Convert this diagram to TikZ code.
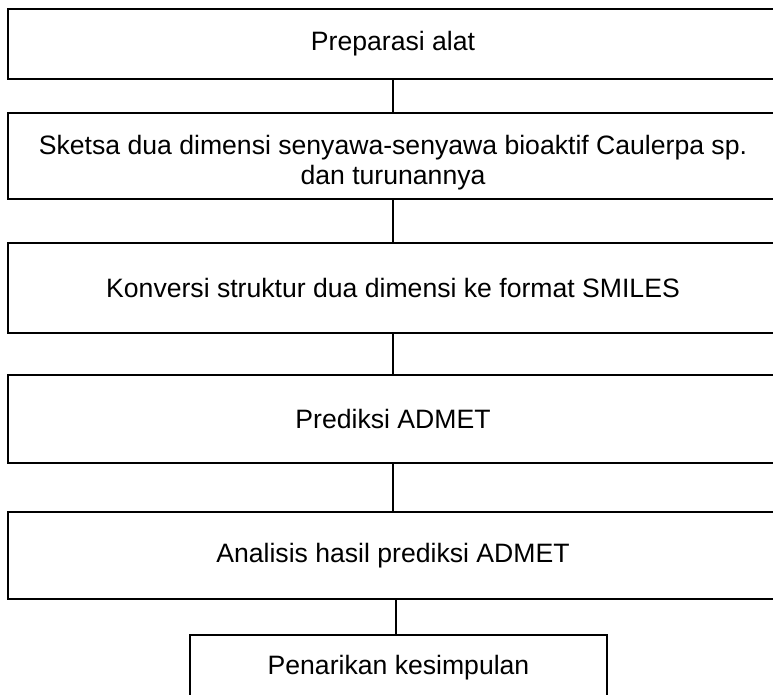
\documentclass[tikz,border=0pt]{standalone}
\usepackage{fontspec}
\setmainfont{Liberation Sans}
\begin{document}
\begin{tikzpicture}[x=1pt,y=-1pt,
  stepbox/.style={draw, line width=2pt, align=center, inner sep=0pt,
    font=\fontsize{26.6}{29.5}\selectfont, text=black},
  steptext/.style={align=center, inner sep=0pt,
    font=\fontsize{26.6}{29.5}\selectfont, text=black},
  conn/.style={line width=2pt}]
\useasboundingbox (0,0) rectangle (773,695);
\clip (0,0) rectangle (773,695);
\node[stepbox, minimum width=770pt, minimum height=69.4pt] (b1) at (393,44) {Preparasi alat};
\node[stepbox, minimum width=770pt, minimum height=85.7pt] (b2) at (393,155.85) {};
\node[steptext] (t2) at (393,162.5) {Sketsa dua dimensi senyawa-senyawa bioaktif Caulerpa sp.\\dan turunannya};
\node[stepbox, minimum width=770pt, minimum height=89.4pt] (b3) at (393,288) {Konversi struktur dua dimensi ke format SMILES};
\node[stepbox, minimum width=770pt, minimum height=88pt] (b4) at (393,419.3) {Prediksi ADMET};
\node[stepbox, minimum width=770pt, minimum height=87pt] (b5) at (393,555.2) {Analisis hasil prediksi ADMET};
\node[stepbox, minimum width=417pt, minimum height=66pt] (b6) at (398.5,668) {Penarikan kesimpulan};
\coordinate (c6) at (396,0);
\draw[conn] (b1.south) -- (b2.north);
\draw[conn] (b2.south) -- (b3.north);
\draw[conn] (b3.south) -- (b4.north);
\draw[conn] (b4.south) -- (b5.north);
\draw[conn] (b5.south -| c6) -- (b6.north -| c6);
\end{tikzpicture}
\end{document}
